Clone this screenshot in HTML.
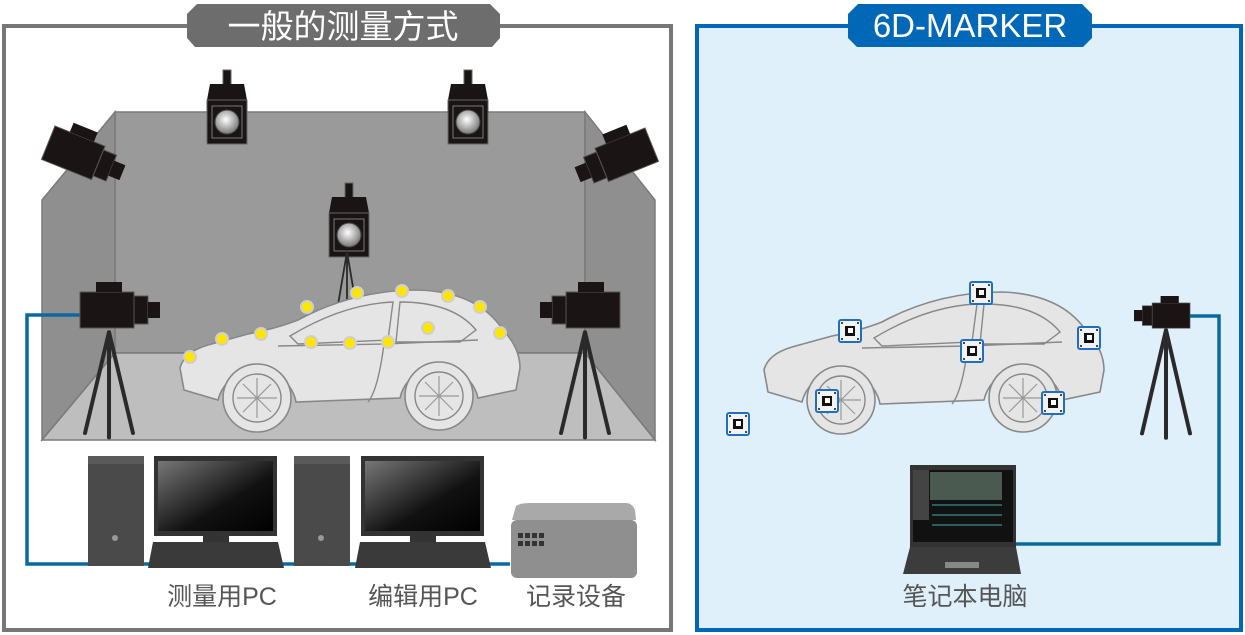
<!DOCTYPE html>
<html><head><meta charset="utf-8"><style>
html,body{margin:0;padding:0;background:#fff}
svg{display:block}
text{font-family:"Liberation Sans","Noto Sans CJK SC",sans-serif}
</style></head><body>
<svg width="1245" height="635" viewBox="0 0 1245 635" xmlns="http://www.w3.org/2000/svg">
<defs>
<radialGradient id="lens" cx="45%" cy="40%" r="60%"><stop offset="0" stop-color="#fff"/><stop offset="1" stop-color="#777"/></radialGradient>
<linearGradient id="scr" x1="0" y1="0" x2="1" y2="1"><stop offset="0" stop-color="#777"/><stop offset="0.6" stop-color="#111"/><stop offset="1" stop-color="#000"/></linearGradient>
<g id="car">
 <path d="M6,100 L2,78 Q6,62 30,55 L70,44 Q100,38 120,30 Q175,0 240,0 Q300,2 325,40 Q342,58 342,78 L338,100 L300,108 A40,40 0 0 0 222,108 L118,112 A40,40 0 0 0 40,110 Z" fill="#e5e5e5" stroke="#888" stroke-width="1.6"/>
 <path d="M112,46 Q165,14 215,12 L210,50 L120,54 Z" fill="#e5e5e5" stroke="#888" stroke-width="1.4"/>
 <path d="M222,12 Q275,12 298,40 L282,52 L218,52 Z" fill="#e5e5e5" stroke="#888" stroke-width="1.4"/>
 <path d="M100,56 L206,54 Q200,100 190,112 M206,54 L300,50" fill="none" stroke="#888" stroke-width="1.4"/>
 <circle cx="79" cy="108" r="34" fill="#e5e5e5" stroke="#888" stroke-width="1.6"/>
 <circle cx="79" cy="108" r="24" fill="#e5e5e5" stroke="#888" stroke-width="1.4"/>
 <circle cx="261" cy="106" r="34" fill="#e5e5e5" stroke="#888" stroke-width="1.6"/>
 <circle cx="261" cy="106" r="24" fill="#e5e5e5" stroke="#888" stroke-width="1.4"/>
 <path d="M79,88 L79,128 M59,108 L99,108 M65,94 L93,122 M93,94 L65,122 M261,86 L261,126 M241,106 L281,106 M247,92 L275,120 M275,92 L247,120" stroke="#999" stroke-width="1.2"/>
</g>
<g id="cam">
 <rect x="0" y="0" width="54" height="36" fill="#1b1414" stroke="#555"/>
 <rect x="16" y="-10" width="26" height="10" fill="#1b1414"/>
 <rect x="54" y="4" width="14" height="28" fill="#1b1414" stroke="#555"/>
 <rect x="68" y="10" width="12" height="16" fill="#1b1414"/>
</g>
<g id="topcam">
 <rect x="16" y="0" width="8" height="20" fill="#1b1414" stroke="#666"/>
 <path d="M3,14 L37,14 L40,30 L0,30 Z" fill="#1b1414"/>
 <rect x="0" y="30" width="40" height="44" fill="#1b1414" stroke="#666"/>
 <rect x="5" y="36" width="30" height="32" fill="none" stroke="#777"/>
 <circle cx="20" cy="52" r="12" fill="url(#lens)" stroke="#444"/>
</g>
<g id="tripod" stroke="#2a2a2a" stroke-width="4" fill="none" stroke-linecap="round">
 <path d="M0,0 L-24,115 M0,0 L0,120 M0,0 L24,115"/>
</g>
<g id="mk">
 <rect x="-11" y="-11" width="22" height="22" rx="2" fill="#f2f2f2" stroke="#1f6fc0" stroke-width="2"/>
 <rect x="-5" y="-5" width="10" height="10" fill="#111"/>
 <rect x="-2" y="-3" width="5" height="5" fill="#fff"/>
 <circle cx="-8" cy="-8" r="1" fill="#111"/><circle cx="8" cy="-8" r="1" fill="#111"/><circle cx="-8" cy="8" r="1" fill="#111"/><circle cx="8" cy="8" r="1" fill="#111"/>
</g>
</defs>

<rect x="4" y="26" width="667" height="604" fill="#fff" stroke="#777" stroke-width="4"/>
<polygon points="197,4 490,4 500,14 500,38 492,47 195,47 187,38 187,14" fill="#6d6d6d"/>
<text x="343" y="38" font-size="33" fill="#fff" text-anchor="middle">一般的测量方式</text>

<polygon points="115,112 585,112 585,353 115,353" fill="#9a9a9a" stroke="#7a7a7a" stroke-width="1.5"/>
<polygon points="42,200 115,112 115,353 42,440" fill="#8f8f8f" stroke="#7a7a7a" stroke-width="1.5"/>
<polygon points="585,112 655,200 655,440 585,353" fill="#8f8f8f" stroke="#7a7a7a" stroke-width="1.5"/>
<polygon points="115,353 585,353 655,440 42,440" fill="#bebebe" stroke="#7a7a7a" stroke-width="1.5"/>

<use href="#topcam" x="207" y="70"/>
<use href="#topcam" x="448" y="70"/>
<use href="#topcam" x="329" y="183"/>
<use href="#tripod" transform="translate(347,252) scale(0.45,0.55)"/>
<g transform="translate(55,126) rotate(22)"><use href="#cam"/></g>
<g transform="translate(645,128) scale(-1,1) rotate(22)"><use href="#cam"/></g>

<use href="#car" x="178" y="290"/>
<g fill="#ffe600" stroke="#cfcfcf" stroke-width="2">
<circle cx="190" cy="357" r="6"/><circle cx="222" cy="339" r="6"/><circle cx="261" cy="334" r="6"/><circle cx="307" cy="307" r="6"/><circle cx="357" cy="293" r="6"/><circle cx="402" cy="291" r="6"/><circle cx="448" cy="296" r="6"/><circle cx="480" cy="307" r="6"/><circle cx="500" cy="333" r="6"/><circle cx="428" cy="328" r="6"/><circle cx="388" cy="342" r="6"/><circle cx="350" cy="343" r="6"/><circle cx="311" cy="342" r="6"/>
</g>

<path d="M80,315 L27,315 L27,564 L510,564" fill="none" stroke="#0a6a9e" stroke-width="3.5"/>

<use href="#tripod" transform="translate(109,332) scale(1,0.88)"/>
<use href="#cam" transform="translate(80,292)"/>
<use href="#tripod" transform="translate(585,332) scale(1,0.88)"/>
<g transform="translate(620,292) scale(-1,1)"><use href="#cam"/></g>

<rect x="88" y="456" width="56" height="110" fill="#4a4a4a"/>
<rect x="88" y="456" width="56" height="8" fill="#5a5a5a"/>
<circle cx="115" cy="538" r="3" fill="#999"/>
<rect x="154" y="456" width="123" height="80" fill="#333"/><rect x="158" y="461" width="115" height="70" fill="url(#scr)"/>
<rect x="203" y="536" width="26" height="6" fill="#333"/>
<polygon points="153,542 278,542 284,568 148,568" fill="#3a3a3a"/>
<rect x="294" y="456" width="56" height="110" fill="#4a4a4a"/>
<rect x="294" y="456" width="56" height="8" fill="#5a5a5a"/>
<circle cx="321" cy="538" r="3" fill="#999"/>
<rect x="361" y="456" width="123" height="80" fill="#333"/><rect x="365" y="461" width="115" height="70" fill="url(#scr)"/>
<rect x="410" y="536" width="26" height="6" fill="#333"/>
<polygon points="360,542 485,542 491,568 355,568" fill="#3a3a3a"/>
<path d="M516,506 Q520,503 530,503 L626,503 Q632,503 635,510 L636,520 L512,520 Z" fill="#a9a9a9"/>
<rect x="511" y="520" width="126" height="58" rx="6" fill="#8f8f8f"/>
<g fill="#333"><rect x="518" y="533" width="5" height="5"/><rect x="525" y="533" width="5" height="5"/><rect x="532" y="533" width="5" height="5"/><rect x="539" y="533" width="5" height="5"/><rect x="518" y="541" width="5" height="5"/><rect x="525" y="541" width="5" height="5"/><rect x="532" y="541" width="5" height="5"/><rect x="539" y="541" width="5" height="5"/></g>

<text x="222" y="605" font-size="25" fill="#555" text-anchor="middle">测量用PC</text>
<text x="423" y="605" font-size="25" fill="#555" text-anchor="middle">编辑用PC</text>
<text x="576" y="605" font-size="25" fill="#555" text-anchor="middle">记录设备</text>

<rect x="697" y="26" width="544" height="604" fill="#dff0fb" stroke="#0068b7" stroke-width="4"/>
<polygon points="858,4 1082,4 1092,14 1092,38 1083,47 857,47 848,38 848,14" fill="#0068b7"/>
<text x="970" y="37" font-size="33" fill="#fff" text-anchor="middle">6D-MARKER</text>

<use href="#car" transform="translate(762,292)"/>
<use href="#mk" transform="translate(850,331)"/>
<use href="#mk" transform="translate(981,293)"/>
<use href="#mk" transform="translate(972,351)"/>
<use href="#mk" transform="translate(1089,338)"/>
<use href="#mk" transform="translate(827,401)"/>
<use href="#mk" transform="translate(1053,403)"/>
<use href="#mk" transform="translate(738,424)"/>

<path d="M1016,544 L1219,544 L1219,316 L1188,316" fill="none" stroke="#0a6a9e" stroke-width="3.5"/>
<use href="#tripod" transform="translate(1166,330) scale(1,0.9)"/>
<g transform="translate(1190,303) scale(-0.7,0.7)"><use href="#cam"/></g>

<rect x="910" y="465" width="106" height="82" fill="#333"/>
<rect x="913" y="470" width="100" height="72" fill="#111"/>
<rect x="930" y="472" width="72" height="28" fill="#4a5a50"/>
<rect x="913" y="470" width="16" height="50" fill="#444"/>
<path d="M932,505 h70 M932,515 h70 M932,525 h70" stroke="#4aa" stroke-width="1"/>
<polygon points="910,547 1016,547 1021,574 903,574" fill="#3c3c3c"/>
<rect x="945" y="562" width="34" height="6" fill="#888"/>
<text x="965" y="605" font-size="25" fill="#555" text-anchor="middle">笔记本电脑</text>
</svg>
</body></html>
